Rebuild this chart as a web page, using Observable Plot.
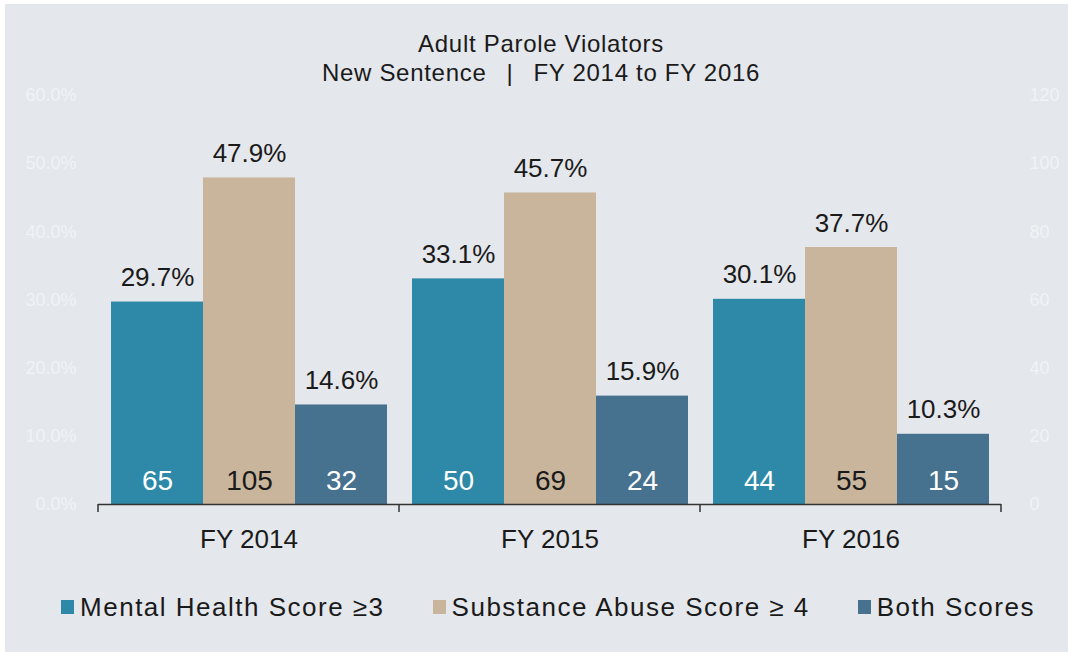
<!DOCTYPE html>
<html>
<head>
<meta charset="utf-8">
<script src="https://cdn.jsdelivr.net/npm/d3@7"></script>
<script src="https://cdn.jsdelivr.net/npm/@observablehq/plot@0.6"></script>
<style>
  html, body { margin: 0; padding: 0; background: #ffffff; }
  body { width: 1068px; height: 652px; position: relative; overflow: hidden;
         font-family: "Liberation Sans", Arial, sans-serif; color: #1a1a1a; }
  #panel { position: absolute; left: 5px; top: 4px; width: 1063px; height: 648px; background: #e4e7eb; }
  #title { position: absolute; left: 0; top: 29px; width: 1082px; text-align: center;
           font-size: 24px; line-height: 29px; letter-spacing: 0.7px; color: #1a1a1a; white-space: pre; }
  #chart { position: absolute; left: 0; top: 84px; }
  #legend { position: absolute; left: 0; top: 590px; width: 1096px; display: flex; justify-content: center;
            gap: 48px; font-size: 26px; line-height: 34px; letter-spacing: 1.5px; color: #1a1a1a; }
  .item { display: flex; align-items: center; white-space: nowrap; }
  .sw { width: 13px; height: 14px; margin-right: 6px; display: inline-block; }
</style>
</head>
<body>
<div id="panel"></div>
<div id="title"><div>Adult Parole Violators</div><div>New Sentence&#8194; | &#8194;FY 2014 to FY 2016</div></div>
<div id="chart"></div>
<div id="legend"></div>
<script>
// ---- data ----
const years = ["FY 2014", "FY 2015", "FY 2016"];
const series = ["Mental Health Score ≥3", "Substance Abuse Score ≥ 4", "Both Scores"];
const mentalPct = [29.7, 33.1, 30.1];
const substancePct = [47.9, 45.7, 37.7];
const bothPct = [14.6, 15.9, 10.3];
const mentalN = [65, 50, 44];
const substanceN = [105, 69, 55];
const bothN = [32, 24, 15];
const tickValues = [0, 10, 20, 30, 40, 50, 60];
const leftTickLabels = ["0.0%", "10.0%", "20.0%", "30.0%", "40.0%", "50.0%", "60.0%"];
const rightTickLabels = ["0", "20", "40", "60", "80", "100", "120"];

// ---- styles ----
const colors = ["#2e89a8", "#c8b59b", "#46718f"];
const countColors = ["#ffffff", "#1a1a1a", "#ffffff"];
const faint = "#f1f3f6";

const pctSeries = [mentalPct, substancePct, bothPct];
const nSeries = [mentalN, substanceN, bothN];
const rows = [];
years.forEach((y, i) => series.forEach((s, j) => rows.push({
  year: y, series: s, pct: pctSeries[j][i], n: nSeries[j][i], countColor: countColors[j]
})));

const plot = Plot.plot({
  width: 1068,
  height: 480,
  marginTop: 11,
  marginBottom: 60,
  marginLeft: 97,
  marginRight: 66,
  style: { background: "transparent", fontFamily: "'Liberation Sans', Arial, sans-serif", color: "#1a1a1a" },
  fx: { domain: years, padding: 0 },
  x: { domain: series, paddingInner: 0, paddingOuter: 0.124, axis: null },
  y: { domain: [0, 60] },
  color: { domain: series, range: colors },
  marks: [
    Plot.barY(rows, { fx: "year", x: "series", y: "pct", fill: "series" }),
    Plot.ruleY([0], { stroke: "#333333", strokeWidth: 1.5 }),
    Plot.text(rows, { fx: "year", x: "series", y: "pct", text: d => d.pct.toFixed(1) + "%",
      lineAnchor: "bottom", dy: -16, fontSize: 26, fill: "#1a1a1a" }),
    Plot.text(rows, { fx: "year", x: "series", y: () => 0, text: d => String(d.n),
      lineAnchor: "bottom", dy: -15, fontSize: 28, fill: d => d.countColor }),
    Plot.axisY(tickValues, { anchor: "left", tickSize: 0, tickPadding: 22, fontSize: 18,
      fill: faint, label: null, tickFormat: d => leftTickLabels[tickValues.indexOf(d)] }),
    Plot.axisY(tickValues, { anchor: "right", tickSize: 0, tickPadding: 28, fontSize: 18,
      fill: faint, label: null, tickFormat: d => rightTickLabels[tickValues.indexOf(d)] }),
    Plot.axisFx({ anchor: "bottom", tickSize: 0, tickPadding: 25, fontSize: 26, label: null, fill: "#1a1a1a" })
  ]
});

// group boundary tick marks, placed with the plot's own scales
const fxScale = plot.scale("fx");
const yScale = plot.scale("y");
const y0 = yScale.apply(0);
const bounds = years.map(d => fxScale.apply(d));
bounds.push(fxScale.apply(years[years.length - 1]) + fxScale.bandwidth);
const svg = d3.select(plot);
svg.append("g").selectAll("line").data(bounds).join("line")
  .attr("x1", d => d).attr("x2", d => d)
  .attr("y1", y0).attr("y2", y0 + 8)
  .attr("stroke", "#333333").attr("stroke-width", 1.5);

document.getElementById("chart").appendChild(plot);

// legend
const legend = d3.select("#legend");
series.forEach((s, j) => {
  const item = legend.append("div").attr("class", "item");
  item.append("span").attr("class", "sw").style("background", colors[j]);
  item.append("span").text(s);
});
</script>
</body>
</html>
